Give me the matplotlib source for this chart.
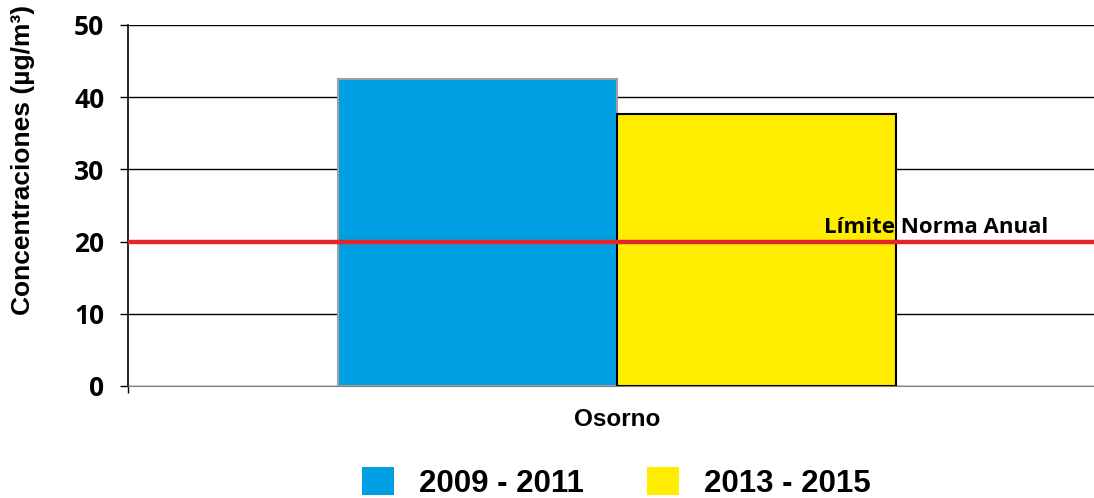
import numpy as np
import matplotlib.pyplot as plt
from matplotlib.patches import Patch

categories = ['Osorno']
periods = ['2009 - 2011', '2013 - 2015']
values = [42.5, 37.7]
colors = ['#009fe3', '#ffed00']
edges = ['#a0a0a0', '#000000']
limit = 20
limit_label = 'Límite Norma Anual'

fig = plt.figure(figsize=(10.94, 4.98), dpi=100)
# axes runs a bit past the right edge of the figure, as in the original
ax = fig.add_axes([0.117, 0.225, 0.894, 0.725])

width = 0.285
x = np.arange(len(categories))
for i, (p, v) in enumerate(zip(periods, values)):
    ax.bar(x + (i - 0.5) * width, [v], width, color=colors[i],
           edgecolor=edges[i], linewidth=1.5, zorder=3, label=p)

ax.axhline(limit, color='#e3262a', linewidth=3.2, zorder=4)
ax.text(0.441, limit + 0.5, limit_label, ha='right', va='bottom',
        fontsize=16, fontweight='bold', family='Open Sans', zorder=5)

ax.set_ylim(0, 50)
ax.set_xlim(-0.5, 0.5)
ax.set_yticks(np.arange(0, 51, 10))
ax.yaxis.grid(True, color='black', linewidth=1)
ax.set_axisbelow(True)
for lbl in ax.get_yticklabels():
    lbl.set_fontweight('bold')
    lbl.set_family('Open Sans')
    lbl.set_fontsize(19)
ax.tick_params(axis='y', length=6, width=1, pad=11)

ax.set_xticks(x)
ax.set_xticklabels(categories, fontsize=17.5, fontweight='bold',
                   family='Liberation Sans')
ax.tick_params(axis='x', length=0, pad=16)
ax.set_xticks([-0.5], minor=True)
ax.tick_params(axis='x', which='minor', length=5, width=1)

ax.spines['top'].set_visible(False)
ax.spines['right'].set_visible(False)
ax.spines['left'].set_linewidth(1.2)
ax.spines['bottom'].set_color('#808080')

ax.set_ylabel('Concentraciones (µg/m³)', fontsize=19, fontweight='bold',
              family='Liberation Sans')
ax.yaxis.set_label_coords(-0.095, 0.625)

handles = [Patch(facecolor=c, edgecolor='none') for c in colors]
fig.legend(handles, periods, loc='center', ncol=2, frameon=False,
           bbox_to_anchor=(0.5635, 0.03), borderpad=0, borderaxespad=0,
           prop={'family': 'Liberation Sans', 'weight': 'bold', 'size': 22.5},
           handlelength=1.03, handleheight=1.0, handletextpad=0.8,
           columnspacing=2.0)

fig.savefig('out.png', dpi=100)
